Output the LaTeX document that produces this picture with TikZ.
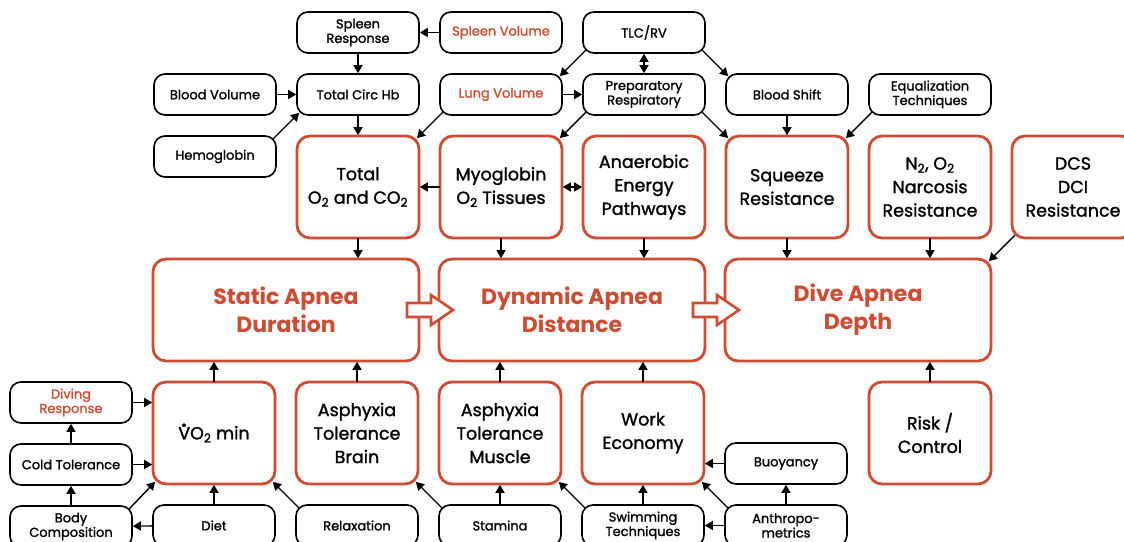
\documentclass[tikz,border=0pt]{standalone}
\usepackage{fontspec}
\setmainfont{Poppins}
\newfontfamily\medfont{Poppins}[FakeBold=1.4]
\usetikzlibrary{positioning,arrows.meta,calc}

\definecolor{rust}{HTML}{CF4B31}
\newcommand{\subtwo}{\textsubscript{2}}
\newcommand{\vdot}{\makebox[0pt][l]{\hspace{0.18em}\raisebox{0.72em}{\textbf{.}}}V}

\begin{document}
\begin{tikzpicture}[
    x=1pt, y=-1pt,
    font=\medfont\fontsize{13}{14.5}\selectfont,
    box/.style={draw, line width=1.6pt, rounded corners=11pt, minimum width=122pt,
                minimum height=41pt, align=center, fill=white, inner sep=2pt, outer sep=0pt},
    oxbox/.style={draw=rust, line width=2.8pt, rounded corners=13pt, minimum width=122pt,
                  minimum height=102pt, align=center, fill=white, outer sep=0pt,
                  font=\medfont\fontsize{17.5}{23.5}\selectfont},
    mainbox/.style={oxbox, minimum width=266pt, text=rust,
                    font=\fontsize{22}{28}\selectfont\bfseries},
    arr/.style={-{Triangle[length=8pt, width=9pt]}, line width=1.4pt, shorten >=0.8pt},
    darr/.style={{Triangle[length=8pt, width=9pt]}-{Triangle[length=8pt, width=9pt]},
                 line width=1.4pt, shorten >=0.8pt, shorten <=0.8pt},
    diag/.style={arr, shorten <=-4pt, shorten >=-3pt},
    bigarr/.style={draw=rust, line width=2.6pt, fill=white, line join=miter},
    node distance=21pt,
  ]
    \clip (0,0) rectangle (1124,541);

    % Oxygen store row
    \node[oxbox] (totox) at (358,187) {Total\\O\subtwo{} and CO\subtwo};
    \node[oxbox, right=of totox]   (myo)     {Myoglobin\\O\subtwo{} Tissues};
    \node[oxbox, right=of myo]     (anaer)   {Anaerobic\\Energy\\Pathways};
    \node[oxbox, right=of anaer]   (squeeze) {Squeeze\\Resistance};
    \node[oxbox, right=of squeeze] (narc)    {N\subtwo, O\subtwo\\Narcosis\\Resistance};
    \node[oxbox, right=of narc]    (dcs)     {DCS\\DCI\\Resistance};

    % Upper factors
    \node[box, above=of totox]   (circhb)   {Total Circ Hb};
    \node[box, above=of circhb]  (splresp)  {Spleen\\Response};
    \node[box, left=of circhb]   (bloodvol) {Blood Volume};
    \node[box, below=of bloodvol] (hemo)    {Hemoglobin};
    \node[box, above=of myo]     (lungvol)  {\textcolor{rust}{Lung Volume}};
    \node[box, above=of lungvol] (splvol)   {\textcolor{rust}{Spleen Volume}};
    \node[box, above=of anaer]   (prep)     {Preparatory\\Respiratory};
    \node[box, above=of prep]    (tlc)      {TLC/RV};
    \node[box, above=of squeeze] (bshift)   {Blood Shift};
    \node[box, above=of narc]    (equal)    {Equalization\\Techniques};

    % Disciplines
    \node[mainbox, below=of totox.south east, anchor=north east] (static)  {Static Apnea\\Duration};
    \node[mainbox, below=of anaer.south east, anchor=north east] (dynamic) {Dynamic Apnea\\Distance};
    \node[mainbox, below=of narc.south east,  anchor=north east] (depth)   {Dive Apnea\\Depth};

    % Lower row
    \node[oxbox, below=of static.south west, anchor=north west] (vo2) {\vdot O\subtwo{} min};
    \node[oxbox, right=of vo2]   (asphb) {Asphyxia\\Tolerance\\Brain};
    \node[oxbox, right=of asphb] (asphm) {Asphyxia\\Tolerance\\Muscle};
    \node[oxbox, right=of asphm] (work)  {Work\\Economy};
    \node[oxbox, below=of depth.south east, anchor=north east] (risk) {Risk /\\Control};

    % Lower factors
    \node[box, left=of vo2.north west, anchor=north east] (divresp) {\textcolor{rust}{Diving}\\\textcolor{rust}{Response}};
    \node[box, below=of divresp] (cold)    {Cold Tolerance};
    \node[box, below=of cold]    (bodyc)   {Body\\Composition};
    \node[box, below=of vo2]     (diet)    {Diet};
    \node[box, below=of asphb]   (relax)   {Relaxation};
    \node[box, below=of asphm]   (stamina) {Stamina};
    \node[box, below=of work]    (swim)    {Swimming\\Techniques};
    \node[box, right=of swim]    (anthro)  {Anthropo-\\metrics};
    \node[box, above=of anthro]  (buoy)    {Buoyancy};

    % Top connectors
    \draw[arr]  (splvol) -- (splresp);
    \draw[arr]  (splresp) -- (circhb);
    \draw[arr]  (bloodvol) -- (circhb);
    \draw[diag] (hemo.north east) -- (circhb.south west);
    \draw[arr]  (circhb) -- (totox);
    \draw[diag] (lungvol.south west) -- (totox.north east);
    \draw[arr]  (lungvol) -- (prep);
    \draw[diag] (tlc.south west) -- (lungvol.north east);
    \draw[darr] (tlc) -- (prep);
    \draw[diag] (tlc.south east) -- (bshift.north west);
    \draw[diag] (prep.south west) -- (myo.north east);
    \draw[diag] (prep.south east) -- (squeeze.north west);
    \draw[arr]  (bshift) -- (squeeze);
    \draw[diag] (equal.south west) -- (squeeze.north east);
    \draw[arr]  (myo) -- (totox);
    \draw[darr] (myo) -- (anaer);

    % Into the disciplines
    \draw[arr]  (totox) -- (totox |- static.north);
    \draw[arr]  (myo) -- (myo |- dynamic.north);
    \draw[arr]  (anaer) -- (anaer |- dynamic.north);
    \draw[arr]  (squeeze) -- (squeeze |- depth.north);
    \draw[arr]  (narc) -- (narc |- depth.north);
    \draw[diag] (dcs.south west) -- (depth.north east);
    \draw[arr]  (vo2) -- (vo2 |- static.south);
    \draw[arr]  (asphb) -- (asphb |- static.south);
    \draw[arr]  (asphm) -- (asphm |- dynamic.south);
    \draw[arr]  (work) -- (work |- dynamic.south);
    \draw[arr]  (risk) -- (risk |- depth.south);

    % Bottom connectors
    \draw[arr]  (divresp) -- (divresp -| vo2.west);
    \draw[arr]  (cold) -- (cold -| vo2.west);
    \draw[arr]  (cold) -- (divresp);
    \draw[arr]  (bodyc) -- (cold);
    \draw[diag] (bodyc.north east) -- (vo2.south west);
    \draw[arr]  (diet) -- (bodyc);
    \draw[arr]  (diet) -- (vo2);
    \draw[diag] (relax.north west) -- (vo2.south east);
    \draw[diag] (stamina.north west) -- (asphb.south east);
    \draw[arr]  (stamina) -- (asphm);
    \draw[diag] (swim.north west) -- (asphm.south east);
    \draw[arr]  (swim) -- (work);
    \draw[arr]  (anthro) -- (swim);
    \draw[diag] (anthro.north west) -- (work.south east);
    \draw[arr]  (anthro) -- (buoy);
    \draw[arr]  (buoy) -- (buoy -| work.east);

    % Progression arrows
    \draw[bigarr] ($(static.east)+(-12,-7)$) -- ++(24,0) -- ++(0,-8) -- ++(22,15)
                  -- ++(-22,15) -- ++(0,-8) -- ++(-24,0) -- cycle;
    \draw[bigarr] ($(dynamic.east)+(-12,-7)$) -- ++(24,0) -- ++(0,-8) -- ++(22,15)
                  -- ++(-22,15) -- ++(0,-8) -- ++(-24,0) -- cycle;
  \end{tikzpicture}
\end{document}
